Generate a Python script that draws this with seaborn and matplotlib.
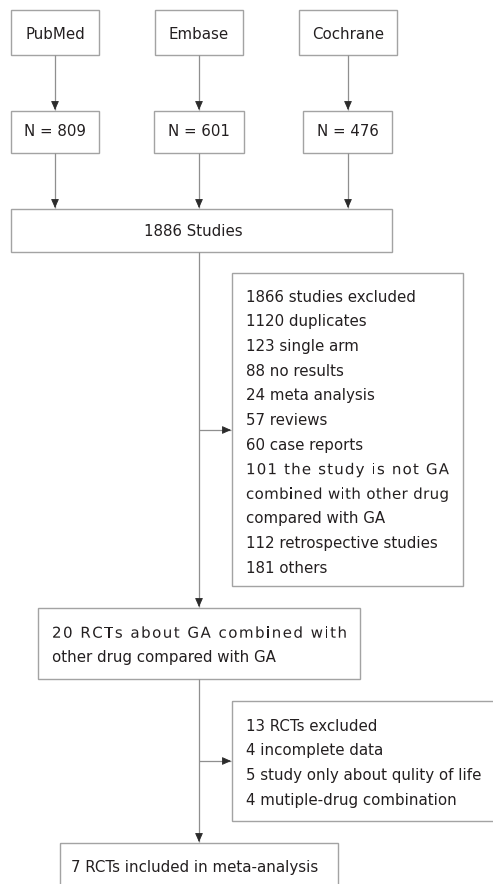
import matplotlib
matplotlib.use("Agg")
import matplotlib.pyplot as plt
import matplotlib.patheffects as pe
import seaborn as sns
from matplotlib import font_manager, ft2font
from matplotlib.patches import Rectangle

sns.set_theme(style="white")
plt.rcParams['font.family'] = ['DejaVu Sans']

# ---- data ----
sources = ["PubMed", "Embase", "Cochrane"]
source_counts = [809, 601, 476]
total_studies = 1886
excluded_first = [
    "1866 studies excluded",
    "1120 duplicates",
    "123 single arm",
    "88 no results",
    "24 meta analysis",
    "57 reviews",
    "60 case reports",
    "101 the study is not GA",
    "combined with other drug",
    "compared with GA",
    "112 retrospective studies",
    "181 others",
]
justified_first = [7, 8]
rct_lines = ["20 RCTs about GA combined with", "other drug compared with GA"]
excluded_second = [
    "13 RCTs excluded",
    "4 incomplete data",
    "5 study only about qulity of life",
    "4 mutiple-drug combination",
]
final_text = "7 RCTs included in meta-analysis"

W, H = 493, 884
EDGE = "#a3a3a3"
LINE = "#8f8f8f"
HEAD = "#2b2b2b"
TXT = "#231f20"
FS = 10.8

fig = plt.figure(figsize=(W / 100, H / 100), dpi=100)
ax = fig.add_axes([0, 0, 1, 1])
ax.set_xlim(0, W)
ax.set_ylim(H, 0)
ax.axis("off")

# glyph advances, for letter-spaced (justified) lines
font = ft2font.FT2Font(font_manager.findfont("DejaVu Sans"))
font.set_size(FS, 100)


def advance(ch):
    return font.load_char(ord(ch)).linearHoriAdvance / 65536


def box(x0, y0, x1, y1):
    ax.add_patch(Rectangle((x0, y0), x1 - x0, y1 - y0, fill=False,
                           edgecolor=EDGE, lw=1.0, clip_on=False))


def arrow(x0, y0, x1, y1):
    ax.plot([x0, x1], [y0, y1], color=LINE, lw=0.9, solid_capstyle="butt")
    dx = 0 if x1 == x0 else (1 if x1 > x0 else -1)
    dy = 0 if y1 == y0 else (1 if y1 > y0 else -1)
    ax.annotate("", xy=(x1, y1), xytext=(x1 - 7 * dx, y1 - 7 * dy),
                arrowprops=dict(arrowstyle="-|>,head_length=0.45,head_width=0.2",
                                color=HEAD, lw=0.6, shrinkA=0, shrinkB=0))


def text(x, y, s, ha="left", **kw):
    return ax.text(x, y, s, ha=ha, va="baseline", fontsize=FS, color=TXT, **kw)


def justify(x0, x1, y, s):
    # letters drawn one by one; Normal path effect keeps sub-pixel positions
    adv = [advance(ch) for ch in s]
    extra = (x1 - x0 - sum(adv)) / (len(s) - 1)
    x = x0
    for ch, a in zip(s, adv):
        if ch != " ":
            text(x, y, ch, path_effects=[pe.Normal()])
        x += a + extra


# top source boxes
top_boxes = [(11, 99), (155, 243), (299, 397)]
n_boxes = [(11, 99), (154, 244), (303, 392)]
centers = [55, 199, 348]
for name, n, tb, nb, cx in zip(sources, source_counts, top_boxes, n_boxes, centers):
    box(tb[0], 10, tb[1], 55)
    text((tb[0] + tb[1]) / 2, 39, name, ha="center")
    arrow(cx, 55, cx, 110)
    box(nb[0], 111, nb[1], 153)
    text((nb[0] + nb[1]) / 2, 136, f"N = {n}", ha="center")
    arrow(cx, 153, cx, 208)

# merged studies
box(11, 209, 392, 252)
text(193, 236.5, f"{total_studies} Studies", ha="center")

# main spine and first exclusion
arrow(199, 252, 199, 607)
box(232, 273, 463, 586)
arrow(199, 430, 231, 430)
for i, line in enumerate(excluded_first):
    y = 301.7 + i * 24.64
    if i in justified_first:
        justify(246, 449, y, line)
    else:
        text(246, y, line)

# RCT box
box(38, 608, 360, 679)
justify(52, 347, 637.7, rct_lines[0])
text(52, 662, rct_lines[1])

# second exclusion
arrow(199, 679, 199, 842)
box(232, 701, 500, 821)
arrow(199, 761, 231, 761)
for i, line in enumerate(excluded_second):
    text(246, 730.7 + i * 24.6, line)

# final box
box(60, 843, 338, 900)
text(71, 871.7, final_text)

fig.savefig("out.png", dpi=100, facecolor="white")
